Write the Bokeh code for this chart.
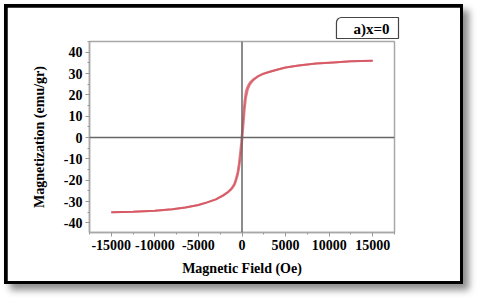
from bokeh.plotting import figure
from bokeh.models import Range1d, FixedTicker, Span
from bokeh.embed import file_html
from bokeh.resources import INLINE

# Ascending branch (field increasing)
H_up = [-15000, -12500, -10000, -8000, -6500, -5000, -4000, -3000, -2200, -1600, -1200, -900, -700, -500,
        -350, -200, -100, 0, 100, 200, 300, 450, 650, 900, 1300, 1800, 2400, 3000, 4000, 5000, 6500,
        8500, 10500, 12500, 15000]
M_up = [-35.0, -34.8, -34.3, -33.6, -32.8, -31.6, -30.4, -29.0, -27.3, -25.7, -24.2, -22.6, -20.5, -17.8,
        -14.8, -10.5, -7.0, -2.5, 2.5, 7.5, 12.8, 18.5, 22.3, 24.8, 26.9, 28.5, 29.7, 30.6, 31.8, 32.8, 33.8,
        34.7, 35.2, 35.7, 36.0]
# Descending branch (field decreasing)
H_down = [15000, 12500, 10500, 8500, 6500, 5000, 4000, 3000, 2400, 1800, 1300, 900, 650, 450, 300, 200,
          100, 0, -100, -200, -350, -500, -700, -900, -1200, -1600, -2200, -3000, -4000, -5000, -6500,
          -8000, -10000, -12500, -15000]
M_down = [36.0, 35.7, 35.2, 34.7, 33.8, 32.8, 31.8, 30.6, 29.9, 28.7, 27.3, 25.8, 24.0, 21.8, 17.5, 13.0,
          7.5, 2.5, -2.5, -6.5, -12.0, -16.0, -19.3, -21.8, -23.8, -25.4, -27.1, -29.0, -30.4, -31.6, -32.8,
          -33.6, -34.3, -34.8, -35.0]

x_ticks = [-15000, -10000, -5000, 0, 5000, 10000, 15000]
x_tick_labels = ["-15000", "-10000", "-5000", "0", "5000", "10000", "15000"]
y_ticks = [-40, -30, -20, -10, 0, 10, 20, 30, 40]
y_tick_labels = ["-40", "-30", "-20", "-10", "0", "10", "20", "30", "40"]

x_label = "Magnetic Field (Oe)"
y_label = "Magnetization (emu/gr)"
panel_label = "a)x=0"

FONT = "Liberation Serif"

p = figure(width=453, height=274, output_backend="svg", toolbar_location=None,
           x_range=Range1d(-17500, 17500), y_range=Range1d(-44.5, 45),
           min_border_left=82, min_border_right=66, min_border_top=34, min_border_bottom=49)
p.styles = {"margin-left": "7px", "margin-top": "7px",
            "outline": "6px solid #000000", "outline-offset": "-3px",
            "box-shadow": "6px 6px 7px 3px rgba(0,0,0,0.45)"}
p.background_fill_color = "white"
p.border_fill_color = "white"
p.xgrid.visible = False
p.ygrid.visible = False
p.outline_line_color = "#a8a8a8"
p.outline_line_width = 1.5

x_minor = [v for v in range(-17500, 17501, 2500)]
y_minor = [v for v in range(-45, 46, 5)]
p.xaxis.ticker = FixedTicker(ticks=x_ticks, minor_ticks=x_minor)
p.yaxis.ticker = FixedTicker(ticks=y_ticks, minor_ticks=y_minor)
p.xaxis.major_label_overrides = {t: l for t, l in zip(x_ticks, x_tick_labels)}
p.yaxis.major_label_overrides = {t: l for t, l in zip(y_ticks, y_tick_labels)}

for ax in (p.xaxis, p.yaxis):
    ax.axis_line_color = "#a8a8a8"
    ax.axis_line_width = 1.5
    ax.major_tick_line_color = "#999999"
    ax.minor_tick_line_color = "#999999"
    ax.major_tick_in = 0
    ax.major_tick_out = 4
    ax.minor_tick_in = 0
    ax.minor_tick_out = 2
    ax.major_label_text_font = FONT
    ax.major_label_text_font_style = "bold"
    ax.major_label_text_font_size = "14px"
    ax.major_label_text_color = "black"
    ax.axis_label_text_font = FONT
    ax.axis_label_text_font_style = "bold"
    ax.axis_label_text_font_size = "14px"
    ax.axis_label_text_color = "black"

p.xaxis.axis_label = x_label
p.yaxis.axis_label = y_label
p.xaxis.major_label_standoff = 3
p.yaxis.major_label_standoff = 3
p.xaxis.axis_label_standoff = 8
p.yaxis.axis_label_standoff = 14

p.title.text = panel_label
p.title.align = "right"
p.title.offset = -4
p.title.standoff = 6
p.title.text_font = FONT
p.title.text_font_style = "bold"
p.title.text_font_size = "15px"
p.title.text_color = "black"
p.title.border_line_color = "#444444"
p.title.border_line_width = 1.2
p.title.background_fill_color = "white"
p.title.padding = (17, 9, 3, 2)
p.title.border_radius = (5, 0, 0, 0)

p.add_layout(Span(location=0, dimension="height", line_color="#666666", line_width=1.5))
p.add_layout(Span(location=0, dimension="width", line_color="#666666", line_width=1.5))

p.line(H_up, M_up, line_color="#d4505c", line_width=2, line_alpha=0.75)
p.line(H_down, M_down, line_color="#d4505c", line_width=2, line_alpha=0.75)

open("out.html", "w").write(file_html(p, INLINE))
